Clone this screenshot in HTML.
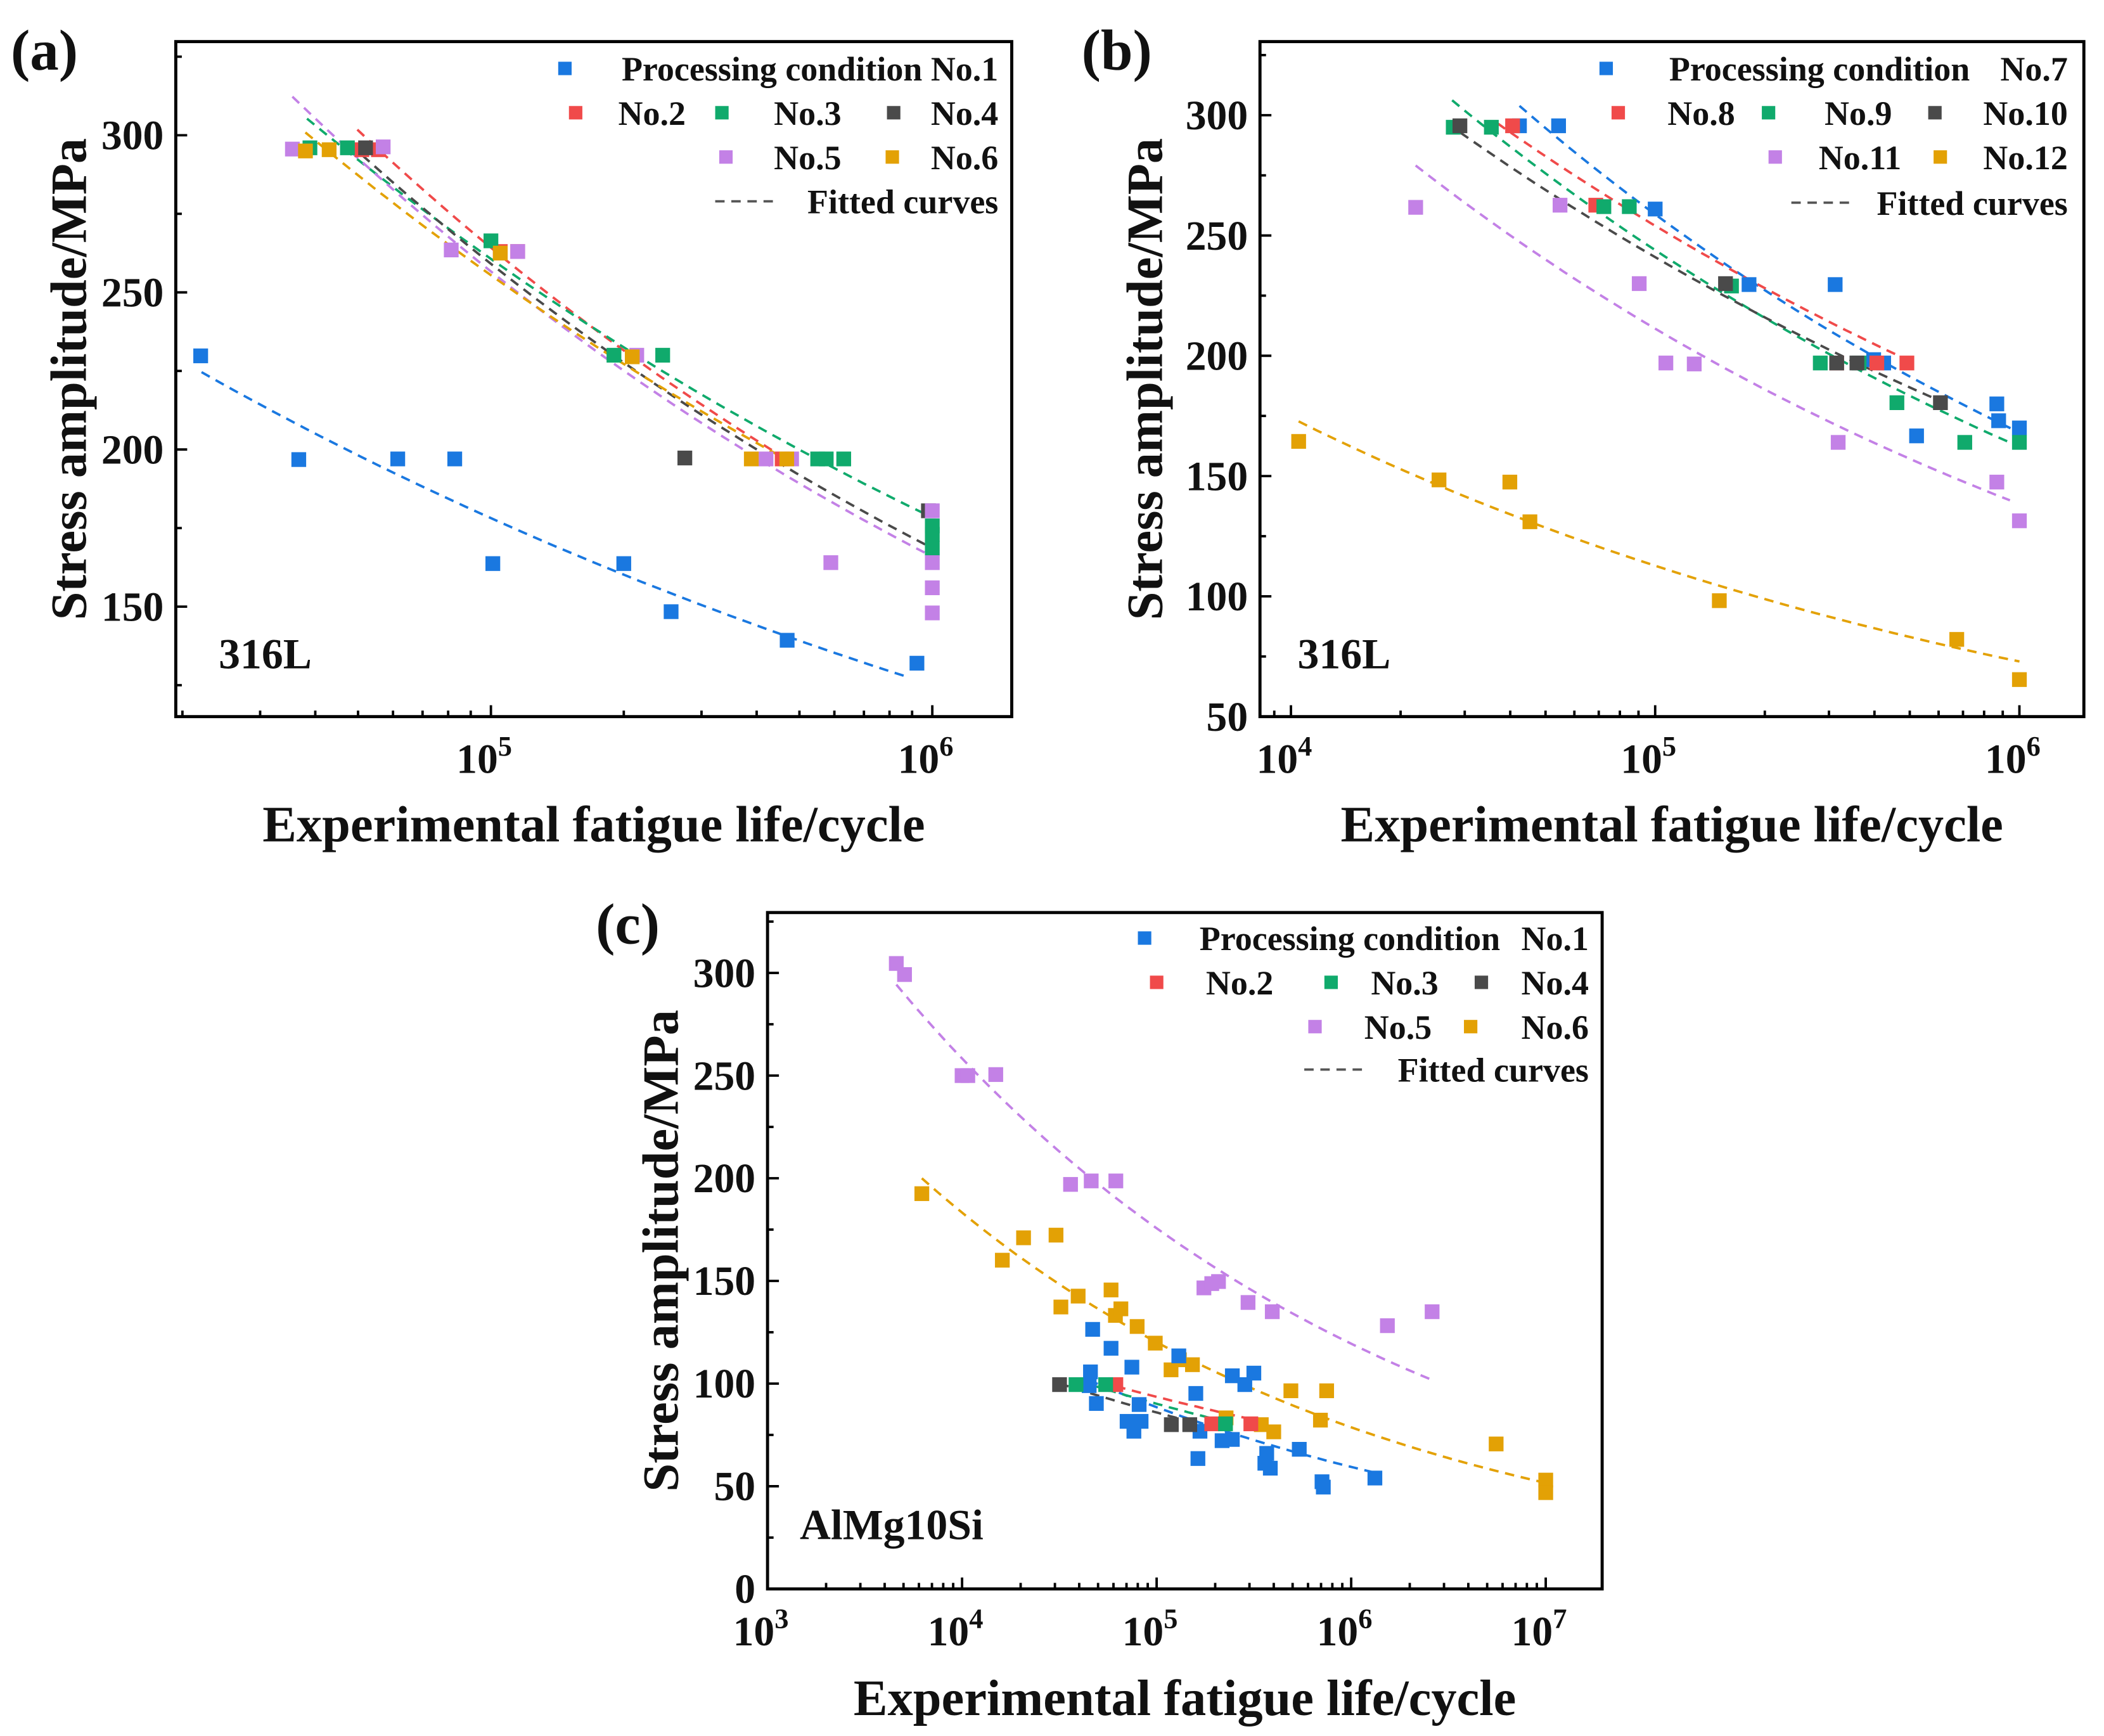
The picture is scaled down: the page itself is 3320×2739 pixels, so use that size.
<!DOCTYPE html>
<html><head><meta charset="utf-8">
<style>
html,body{margin:0;padding:0;background:#fff;}
svg{display:block;}
text{font-family:"Liberation Serif","DejaVu Serif",serif;font-weight:bold;fill:#111;}
</style></head>
<body>
<svg id="fig" xmlns="http://www.w3.org/2000/svg" width="3320" height="2739" viewBox="0 0 1568 1293.6" preserveAspectRatio="none"></svg>
<script>
// ---------- DATA (cycles, MPa) ----------
// Panel (a) 316L
const a_no1 = [[22000,229.8],[36700,196.8],[61500,197],[82800,197],[101000,163.7],[200000,163.7],[256000,148.4],[469000,139.3],[923000,132]];
const a_no2 = [[51000,295.4],[55600,295.4],[105000,263],[115000,263],[457000,197]];
const a_no3 = [[38900,296],[47300,296],[100000,266.4],[190000,230],[245000,230],[550000,197],[575000,197],[630000,197],[1000000,175.7],[1000000,173],[1000000,168.6]];
const a_no4 = [[52000,296],[275000,197.3],[980000,180.5]];
const a_no5 = [[35500,295.6],[57000,296.3],[81300,263.5],[115000,263],[214000,230],[420000,197],[480000,197],[589000,164],[1000000,180.5],[1000000,164],[1000000,156],[1000000,148]];
const a_no6 = [[38000,295],[43000,295.4],[105000,262.5],[209000,229.5],[389000,197],[468000,197]];
// fitted curves: [N1,S1,N2,S2]
const a_fit1 = [22100,224.6,871000,127.8];
const a_fit2 = [49800,301.8,479000,196];
const a_fit3 = [38300,305.3,966000,179.4];
const a_fit4 = [48100,297,966000,169.7];
const a_fit5 = [35500,312.3,966000,167];
const a_fit6 = [38000,300.9,479000,196];
// Panel (b) 316L
const b_no7 = [[42400,295.6],[54300,295.6],[100000,261],[181000,229.6],[312000,229.6],[398000,198.4],[424000,197],[522000,166.7],[867000,180],[877000,173],[1000000,170]];
const b_no8 = [[40600,295.6],[68700,262.6],[315000,197],[406000,197],[491000,197]];
const b_no9 = [[27900,295],[35500,295],[72300,262],[84900,262],[162000,229],[284000,197],[363000,197],[461000,180.5],[708000,164],[1000000,164]];
const b_no10 = [[29100,295.6],[156000,230],[315000,197],[358000,197],[607000,180.5]];
const b_no11 = [[22000,261.7],[54800,262.6],[90400,230],[107000,197],[128000,196.6],[318000,164],[867000,147.5],[1000000,131.4]];
const b_no12 = [[10500,164.4],[25500,148.4],[39900,147.5],[45300,131],[150000,98.2],[673000,82.1],[1000000,65.4]];
const b_fit7 = [42400,303.9,1000000,168.1];
const b_fit8 = [36900,296.6,491000,198.4];
const b_fit9 = [27700,306.2,1000000,162.2];
const b_fit10 = [26900,296.6,607000,181.2];
const b_fit11 = [22000,279.1,942000,139.9];
const b_fit12 = [10500,172.7,1000000,72.9];
// Panel (c) AlMg10Si
const c_no1 = [[46900,126.4],[45700,105.7],[45000,99],[49000,90.3],[58300,117.2],[74600,108],[70500,81.6],[76400,76.8],[83200,81.6],[81300,89.8],[130000,113.5],[159000,95.2],[163000,63.5],[167000,76.8],[217000,72.2],[245000,72.8],[245000,103.8],[284000,99.5],[316000,105.1],[360000,61.2],[368000,66],[384000,58.8],[541000,68],[708000,52.2],[719000,49.6],[1324000,54]];
const c_no2 = [[61700,99.5],[192000,80.4],[305000,80.4]];
const c_no3 = [[38500,99.5],[54700,99.5],[226000,80.4]];
const c_no4 = [[31700,99.5],[119000,80],[148000,80]];
const c_no5 = [[4590,304.6],[5060,299.2],[10000,250],[10700,250],[14900,250.5],[36100,197],[46100,198.7],[61700,198.7],[175000,146.6],[192000,148.7],[208000,149.7],[295000,139.5],[393000,135],[1535000,128.2],[2606000,135]];
const c_no6 = [[6210,192.5],[16100,160.1],[20700,171],[30400,172.3],[32200,137.3],[39500,142.6],[58300,145.6],[61400,133.2],[65500,136.4],[79400,127.8],[98400,119.7],[118600,106.7],[130900,111.6],[152800,109.2],[227500,83.3],[345100,80],[399900,76.5],[489800,96.5],[695000,82.2],[748000,96.5],[5560000,70.6],[10000000,53],[10000000,46.9]];
const c_fit1 = [45000,101.6,1324000,56.6];
const c_fit2 = [42900,102.7,305000,82.7];
const c_fit3 = [38500,101.6,226000,81.4];
const c_fit4 = [31700,100,148000,81.6];
const c_fit5 = [4590,294.3,2673000,101.3];
const c_fit6 = [6210,200,10000000,51.6];
// tick values
const a_yTicks = [150,200,250,300];
const b_yTicks = [50,100,150,200,250,300];
const c_yTicks = [0,50,100,150,200,250,300];

// ---------- STYLES / LAYOUT ----------
const COL = {blue:'#1a78e0',red:'#f04a4a',green:'#10aa6c',gray:'#4a4a4a',purple:'#c381e6',orange:'#e3a105'};
const svg = document.getElementById('fig');
const NS = 'http://www.w3.org/2000/svg';
function mk(tag, attrs, parent){
  const e = document.createElementNS(NS, tag);
  for (const k in attrs) e.setAttribute(k, attrs[k]);
  (parent||svg).appendChild(e);
  return e;
}

function panel(cfg){
  const g = mk('g', {});
  
  
  const {L,R,T,B,xmin,xmax,ymin,ymax} = cfg;
  const X = n => L + (Math.log10(n) - xmin) / (xmax - xmin) * (R - L);
  const Y = s => B - (s - ymin) / (ymax - ymin) * (B - T);
  const fr = mk('rect', {x:L,y:T,width:R-L,height:B-T,fill:'none',stroke:'#000','stroke-width':2.3}, g);
  
  
  for (let d = Math.floor(xmin); d <= Math.ceil(xmax); d++){
    for (let m = 1; m <= 9; m++){
      const lv = d + Math.log10(m);
      if (lv < xmin || lv > xmax) continue;
      const x = X(Math.pow(10, lv));
      const len = m === 1 ? 8.5 : 4.5;
      const t = mk('line', {x1:x,x2:x,y1:B,y2:B-len,stroke:'#000','stroke-width':1.8}, g);
      
      
      if (m === 1){
        const lab = mk('text', {x:x-5,y:B+42,'font-size':31,'text-anchor':'middle'}, g);
        
        
        lab.appendChild(document.createTextNode('10'));
        const sup = mk('tspan', {dy:-13,'font-size':21}, lab);
        sup.textContent = String(d);
      }
    }
  }
  cfg.yTicks.forEach(v => {
    const y = Y(v);
    const t = mk('line', {x1:L,x2:L+8.5,y1:y,y2:y,stroke:'#000','stroke-width':1.8}, g);
    
    
    const lab = mk('text', {x:L-9,y:y+10.5,'font-size':31,'text-anchor':'end'}, g);
    
    
    lab.textContent = String(v);
  });
  const step = cfg.yTicks[1] - cfg.yTicks[0];
  for (let v = cfg.yTicks[0] - step/2; v < ymax; v += step){
    if (v <= ymin) continue;
    const y = Y(v);
    const t = mk('line', {x1:L,x2:L+4.5,y1:y,y2:y,stroke:'#000','stroke-width':1.8}, g);
    
    
  }
  cfg.fits.forEach(([f, c]) => {
    const [n1,s1,n2,s2] = f;
    const l1 = Math.log10(n1), l2 = Math.log10(n2);
    const b = (Math.log10(s2) - Math.log10(s1)) / (l2 - l1);
    let pts = [];
    for (let i = 0; i <= 40; i++){
      const l = l1 + (l2 - l1) * i / 40;
      const s = Math.pow(10, Math.log10(s1) + b * (l - l1));
      pts.push(X(Math.pow(10,l)).toFixed(1) + ',' + Y(s).toFixed(1));
    }
    const p = mk('polyline', {points:pts.join(' '),fill:'none',stroke:c,'stroke-width':1.8,'stroke-dasharray':'7,5'}, g);
    
    
  });
  cfg.series.forEach(([data, c, name]) => {
    data.forEach(([n, s]) => {
      const r = mk('rect', {x:X(n)-5.5,y:Y(s)-5.5,width:11,height:11,fill:c}, g);
      
      
    });
  });
  const xt = mk('text', {x:(L+R)/2,y:cfg.xTitleY,'font-size':38,'text-anchor':'middle'}, g);
  
  
  xt.textContent = 'Experimental fatigue life/cycle';
  const cy = (T+B)/2;
  const yt = mk('text', {x:cfg.yTitleX,y:cy,'font-size':38,'text-anchor':'middle',transform:'rotate(-90 '+cfg.yTitleX+' '+cy+')'}, g);
  
  
  yt.textContent = 'Stress amplitude/MPa';
  const pl = mk('text', {x:cfg.lab[0],y:cfg.lab[1],'font-size':43}, g);
  
  
  pl.textContent = '(' + cfg.id + ')';
  const mat = mk('text', {x:cfg.mat[0],y:cfg.mat[1],'font-size':32}, g);
  
  
  mat.textContent = cfg.mat[2];
  const lg = mk('g', {}, g);
  
  
  cfg.legend.forEach(it => {
    if (it.dash){
      const l = mk('line', {x1:it.m,x2:it.m2,y1:it.y,y2:it.y,stroke:'#555','stroke-width':1.8,'stroke-dasharray':'7,5'}, lg);
      
      
    } else {
      const r = mk('rect', {x:it.m-5,y:it.y-5,width:10,height:10,fill:it.c}, lg);
      
      
    }
    const t = mk('text', {x:it.tx,y:it.y+9,'font-size':25.5,'text-anchor':'end'}, lg);
    
    
    t.textContent = it.t;
    if (it.t2){
      const t2 = mk('text', {x:it.t2x,y:it.y+9,'font-size':25.5,'text-anchor':'end'}, lg);
      
      
      t2.textContent = it.t2;
    }
  });
}

panel({id:'a',L:131,R:754,T:31,B:534,xmin:4.286,xmax:6.18,ymin:115,ymax:329.8,yTicks:a_yTicks,
  xTitleY:627,yTitleX:64,lab:[8,52],mat:[163,498,'316L'],
  fits:[[a_fit1,COL.blue],[a_fit2,COL.red],[a_fit3,COL.green],[a_fit4,COL.gray],[a_fit5,COL.purple],[a_fit6,COL.orange]],
  series:[[a_no1,COL.blue,'no1'],[a_no2,COL.red,'no2'],[a_no3,COL.green,'no3'],[a_no4,COL.gray,'no4'],[a_no5,COL.purple,'no5'],[a_no6,COL.orange,'no6']],
  legend:[{m:421,y:51,c:COL.blue,t:'Processing condition No.1',tx:744},
    {m:429,y:84,c:COL.red,t:'No.2',tx:511},{m:538,y:84,c:COL.green,t:'No.3',tx:627},{m:666,y:84,c:COL.gray,t:'No.4',tx:744},
    {m:541,y:117,c:COL.purple,t:'No.5',tx:627},{m:665,y:117,c:COL.orange,t:'No.6',tx:744},
    {dash:true,m:533,m2:577,y:150,t:'Fitted curves',tx:744}]
});
panel({id:'b',L:939,R:1553,T:31,B:534,xmin:3.915,xmax:6.177,ymin:50,ymax:330.6,yTicks:b_yTicks,
  xTitleY:627,yTitleX:866,lab:[806,52],mat:[967,498,'316L'],
  fits:[[b_fit7,COL.blue],[b_fit8,COL.red],[b_fit9,COL.green],[b_fit10,COL.gray],[b_fit11,COL.purple],[b_fit12,COL.orange]],
  series:[[b_no7,COL.blue,'no7'],[b_no8,COL.red,'no8'],[b_no9,COL.green,'no9'],[b_no10,COL.gray,'no10'],[b_no11,COL.purple,'no11'],[b_no12,COL.orange,'no12']],
  legend:[{m:1197,y:51,c:COL.blue,t:'Processing condition',tx:1468,t2:'No.7',t2x:1541},
    {m:1206,y:84,c:COL.red,t:'No.8',tx:1293},{m:1318,y:84,c:COL.green,t:'No.9',tx:1410},{m:1442,y:84,c:COL.gray,t:'No.10',tx:1541},
    {m:1323,y:117,c:COL.purple,t:'No.11',tx:1417},{m:1446,y:117,c:COL.orange,t:'No.12',tx:1541},
    {dash:true,m:1335,m2:1380,y:151,t:'Fitted curves',tx:1541}]
});
panel({id:'c',L:572,R:1194,T:680,B:1184,xmin:3,xmax:7.29,ymin:0,ymax:329.4,yTicks:c_yTicks,
  xTitleY:1278,yTitleX:505,lab:[444,703],mat:[596,1147,'AlMg10Si'],
  fits:[[c_fit1,COL.blue],[c_fit2,COL.red],[c_fit3,COL.green],[c_fit4,COL.gray],[c_fit5,COL.purple],[c_fit6,COL.orange]],
  series:[[c_no5,COL.purple,'no5'],[c_no6,COL.orange,'no6'],[c_no1,COL.blue,'no1'],[c_no2,COL.red,'no2'],[c_no3,COL.green,'no3'],[c_no4,COL.gray,'no4']],
  legend:[{m:853,y:699,c:COL.blue,t:'Processing condition',tx:1118,t2:'No.1',t2x:1184},
    {m:862,y:732,c:COL.red,t:'No.2',tx:949},{m:992,y:732,c:COL.green,t:'No.3',tx:1072},{m:1104,y:732,c:COL.gray,t:'No.4',tx:1184},
    {m:980,y:765,c:COL.purple,t:'No.5',tx:1067},{m:1096,y:765,c:COL.orange,t:'No.6',tx:1184},
    {dash:true,m:972,m2:1020,y:797,t:'Fitted curves',tx:1184}]
});
</script>
</body></html>
